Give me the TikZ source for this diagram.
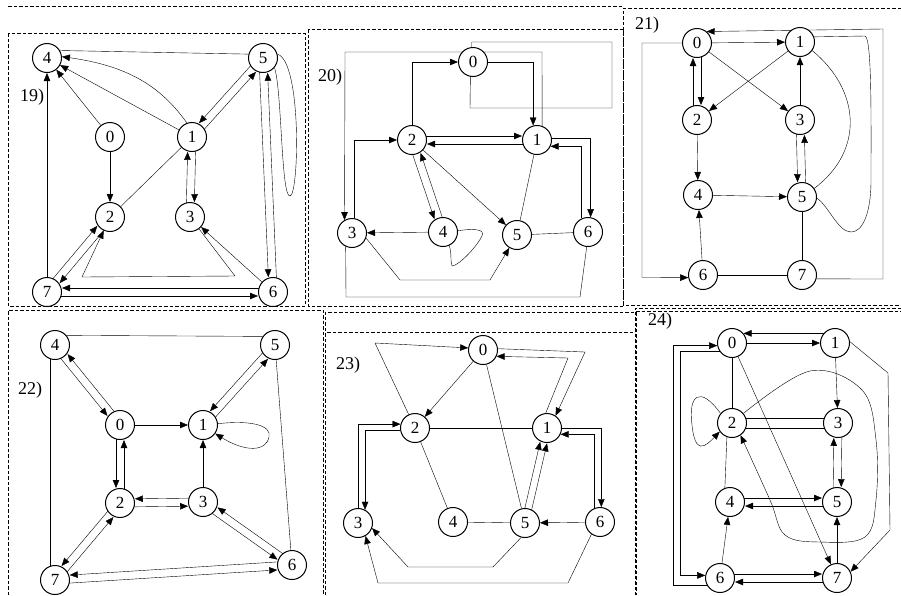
\documentclass[tikz,border=0pt]{standalone}
\usepackage{fontspec}
\setmainfont{Liberation Serif}
\usetikzlibrary{arrows.meta,calc,backgrounds}
\newcommand\pairR[2]{%
 \draw[arr,shorten >=15pt,shorten <=14pt] ($(#1)!4pt!-90:(#2)$) -- ($(#2)!4pt!90:(#1)$);%
 \draw[arr,shorten >=15pt,shorten <=14pt] ($(#2)!4pt!-90:(#1)$) -- ($(#1)!4pt!90:(#2)$);}
\newcommand\pairL[2]{%
 \draw[arr,shorten >=15pt,shorten <=14pt] ($(#1)!4pt!90:(#2)$) -- ($(#2)!4pt!-90:(#1)$);%
 \draw[arr,shorten >=15pt,shorten <=14pt] ($(#2)!4pt!90:(#1)$) -- ($(#1)!4pt!-90:(#2)$);}
\tikzset{
 v/.style={circle,draw,fill=white,minimum size=29pt,inner sep=0pt,line width=1pt,font=\fontsize{17}{17}\selectfont},
 arr/.style={-{Triangle[length=8pt,width=6.5pt]}},
 lbl/.style={font=\fontsize{18}{18}\selectfont,inner sep=0pt},
 frame/.style={dash pattern=on 3.5pt off 2pt, line width=0.9pt},
}
\begin{document}
\begin{tikzpicture}[x=1pt,y=-1pt,line width=1pt]
\useasboundingbox (0,0) rectangle (901,595);
% ---------- nodes ----------
% 19
\node[v] (A4) at (47,58) {4};
\node[v] (A5) at (263,58) {5};
\node[v] (A0) at (110,137) {0};
\node[v] (A1) at (192,137) {1};
\node[v] (A2) at (110,217) {2};
\node[v] (A3) at (190,217) {3};
\node[v] (A7) at (47,292) {7};
\node[v] (A6) at (273,292) {6};
\node[lbl] (L19) at (32,97) {19)};
% 20
\node[v] (B0) at (473,62) {0};
\node[v] (B2) at (412,140) {2};
\node[v] (B1) at (537,140) {1};
\node[v] (B3) at (352,233) {3};
\node[v] (B4) at (443,232) {4};
\node[v] (B5) at (517,235) {5};
\node[v] (B6) at (588,232) {6};
\node[lbl] (L20) at (330,77) {20)};
% 21
\node[v] (C0) at (697,43) {0};
\node[v] (C1) at (800,42) {1};
\node[v] (C2) at (697,120) {2};
\node[v] (C3) at (800,120) {3};
\node[v] (C4) at (698,195) {4};
\node[v] (C5) at (802,197) {5};
\node[v] (C6) at (703,275) {6};
\node[v] (C7) at (802,275) {7};
\node[lbl] (L21) at (647,25) {21)};
% 22
\node[v] (D4) at (55,345) {4};
\node[v] (D5) at (275,345) {5};
\node[v] (D0) at (120,425) {0};
\node[v] (D1) at (203,425) {1};
\node[v] (D2) at (120,503) {2};
\node[v] (D3) at (203,502) {3};
\node[v] (D7) at (55,580) {7};
\node[v] (D6) at (292,565) {6};
\node[lbl] (L22) at (30,390) {22)};
% 23
\node[v] (E0) at (483,350) {0};
\node[v] (E2) at (415,428) {2};
\node[v] (E1) at (547,428) {1};
\node[v] (E3) at (358,523) {3};
\node[v] (E4) at (453,522) {4};
\node[v] (E5) at (525,523) {5};
\node[v] (E6) at (600,522) {6};
\node[lbl] (L23) at (348,365) {23)};
% 24
\node[v] (F0) at (732,343) {0};
\node[v] (F1) at (835,343) {1};
\node[v] (F2) at (732,423) {2};
\node[v] (F3) at (838,423) {3};
\node[v] (F4) at (730,502) {4};
\node[v] (F5) at (837,502) {5};
\node[v] (F6) at (720,578) {6};
\node[v] (F7) at (837,578) {7};
\node[lbl] (L24) at (660,321) {24)};

\begin{scope}[on background layer]
\fill[white] (0,0) rectangle (901,595);
% ---------- frames ----------
\draw[frame] (8,6) -- (623,6);
\draw[frame] (8,33) rectangle (305,306);
\draw[frame] (308,29) rectangle (623,306);
\draw[frame] (901,8) -- (623,8) -- (623,305) -- (901,305);
\draw[frame] (8,595) -- (8,310) -- (323,310) -- (323,595);
\draw[frame] (325,595) -- (325,312) -- (636,312) -- (636,595);
\draw[frame] (327,332) -- (635,332);
\draw[frame] (901,308) -- (635,308) -- (635,595);
\draw[frame] (636,311) -- (901,311);
% ---------- 19 ----------
\draw (A4.30) -- (A5.165);
\draw[arr] (A1.110) .. controls (162,88) and (130,66) .. (A4.5);
\draw[arr] (A1) -- (A4);
\draw[arr] (A0) -- (A4);
\pairR{A1}{A5}
\draw (A5.15) .. controls (302,62) and (299,195) .. (290,196) .. controls (281,197) and (282,90) .. (A5.-40);
\draw[arr] (A0) -- (A2);
\draw (A1) -- (A2);
\pairL{A1}{A3}
\pairR{A5}{A6}
\draw[arr] (A7) -- (A4);
\pairL{A7}{A2}
\draw[arr] (A3) -- (235,276) -- (82,277) -- (A2);
\draw[arr] (A6) -- (A3);
\pairR{A6}{A7}
% ---------- 20 ----------
\draw[arr] (B2.north) |- (B0.west);
\draw[arr] (B0.east) -| (B1.105);
\draw[arr] (B1.70) -- (542,52) -- (345,52) -- (B3.120);
\draw (B0.95) |- (612,42) |- (470,108) -- (B0.-100);
\pairL{B2}{B1}
\draw[arr] (B3.80) |- (B2.west);
\pairR{B2}{B4}
\draw[arr] (B2) -- (B5);
\draw (B1) -- (B5);
\draw[arr] (B1.8) -| (B6.80);
\draw[arr] (B6.115) |- (B1.-25);
\draw[arr] (B4) -- (B3);
\draw (B4.5) .. controls (470,229) and (486,228) .. (482,236) .. controls (476,248) and (458,266) .. (452,266) .. controls (450,260) and (452,255) .. (B4.-65);
\draw (B5) -- (B6);
\draw[arr] (B3.-20) -- (400,280) -- (490,280) -- (B5);
\draw (B3.-115) -- (346,297) -- (580,297) -- (B6.-95);
% ---------- 21 ----------
\draw[arr] (C0) -- (C1);
\draw[arr] (C7.-15) -- (883,279) -- (883,29) -- (C0.50);
\draw (C1.20) -- (865,36) .. controls (872,38) and (871,120) .. (871,180) .. controls (871,215) and (862,232) .. (851,232) .. controls (838,232) and (828,205) .. (C5.-5);
\draw (C1.-35) .. controls (860,90) and (865,150) .. (C5.35);
\pairL{C0}{C2}
\draw[arr] (C0) -- (C3);
\draw[arr] (C1) -- (C2);
\draw[arr] (C3) -- (C1);
\pairR{C3}{C5}
\draw[arr] (C2) -- (C4);
\draw[arr] (C4) -- (C5);
\draw[arr] (C6) -- (C4);
\draw[arr] (C0.180) -- (642,43) -- (642,277.5) -- (C6.-170);
\draw (C6) -- (C7);
\draw (C5) -- (C7);
% ---------- 22 ----------
\draw (D4.40) -- (D5.145);
\draw (D4.-110) -- (D7.110);
\draw (D5) -- (D6);
\pairR{D4}{D0}
\pairR{D5}{D1}
\draw[arr] (D0) -- (D1);
\draw[arr] (D1.5) .. controls (250,420) and (272,425) .. (269,437) .. controls (266,452) and (245,452) .. (D1.-35);
\pairR{D0}{D2}
\draw[arr] (D3) -- (D1);
\pairR{D2}{D3}
\pairR{D2}{D7}
\pairR{D3}{D6}
\pairR{D6}{D7}
% ---------- 23 ----------
\draw[arr] (E2.115) -- (375,343) -- (E0.172);
\draw[arr] (E0) -- (E2);
\draw (E0) -- (E5);
\draw[arr] (E0.5) -- (585,352) -- (E1.55);
\draw[arr] (E1.95) -- (568,358) -- (E0.-25);
\draw (E2) -- (E1);
\draw (E2) -- (E4);
\draw[arr] (E3.88) |- (E2.165);
\draw[arr] (E2.-170) -| (E3.62);
\draw (E4) -- (E5);
\draw[arr] (E6) -- (E5);
\draw[arr,shorten >=15pt,shorten <=14pt] ($(E5)!3.5pt!90:(E1)$) -- ($(E1)!3.5pt!-90:(E5)$);
\draw[arr,shorten >=15pt,shorten <=14pt] ($(E5)!3.5pt!-90:(E1)$) -- ($(E1)!3.5pt!90:(E5)$);
\draw[arr] (E1.0) -| (E6.85);
\draw[arr] (E6.112) |- (E1.-25);
\draw[arr] (E5.-105) -- (493,567) -- (408,567) -- (E3.-20);
\draw[arr] (E6.-125) -- (568,583) -- (378,583) -- (E3.-60);
% ---------- 24 ----------
\draw[arr] (F1.140) -- (F0.40);
\draw[arr] (F0) -- (F1);
\draw[arr] (F1.5) -- (888,373) -- (890,530) -- (F7.25);
\draw[arr] (F1) -- (F3);
\draw (F0) -- (F2);
\draw[arr] (F0) -- (F7);
\draw[arr] (F2.140) .. controls (700,385) and (688,395) .. (692,425) .. controls (695,455) and (705,447) .. (F2.-145);
\draw (F2.20) -- (F3.160);
\draw (F2.-20) -- (F3.-160);
\draw[arr] plot[smooth,tension=0.6] coordinates {(F2.40) (810,371) (862,390) (876,440) (876,500) (865,537) (820,542) (785,535) (770,500) (F2.-55)};
\pairL{F3}{F5}
\draw (F2.-110) -- (F4.110);
\pairL{F4}{F5}
\draw[arr] (F6) -- (F4);
\draw[arr] (F7) -- (F5);
\pairL{F6}{F7}
\draw[arr] (F6.-150) -| (673,450) |- (F0.-170);
\draw[arr] (F0.-145) -| (680,450) |- (F6.170);
\end{scope}
\end{tikzpicture}
\end{document}
